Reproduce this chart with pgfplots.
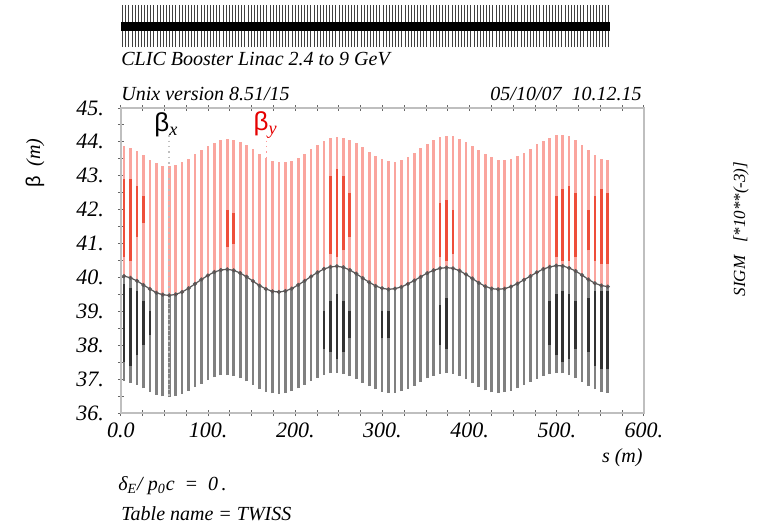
\documentclass[border=0pt]{standalone}
\usepackage{fontspec}
\setmainfont{Liberation Serif}
\newfontfamily\gr{Liberation Sans}
\usepackage{pgfplots}
\usepackage{pgfplotstable}
\pgfplotsset{compat=1.18}
\definecolor{pinkred}{RGB}{250,165,158}
\definecolor{darkred}{RGB}{238,78,58}
\definecolor{midgray}{RGB}{128,128,128}
\definecolor{darkgray}{RGB}{50,50,50}

% s, lower envelope of beta_x (B), common envelope near 40 (M), upper envelope of beta_y (T)
\pgfplotstableread{
s B M T
3.5 36.94 40.04 43.87
10.9 36.90 39.99 43.82
18.3 36.83 39.90 43.72
25.7 36.73 39.78 43.60
33.1 36.63 39.66 43.47
40.5 36.54 39.55 43.37
47.9 36.49 39.49 43.30
55.3 36.47 39.47 43.29
62.7 36.50 39.50 43.33
70.1 36.56 39.57 43.40
77.5 36.65 39.68 43.51
84.9 36.76 39.81 43.63
92.3 36.87 39.94 43.76
99.7 36.97 40.06 43.88
107.1 37.05 40.16 43.98
114.5 37.11 40.22 44.05
121.9 37.12 40.24 44.08
129.3 37.09 40.21 44.06
136.7 37.03 40.13 44.00
144.1 36.93 40.02 43.90
151.5 36.83 39.89 43.78
158.9 36.72 39.76 43.65
166.3 36.63 39.66 43.53
173.7 36.58 39.59 43.44
181.1 36.56 39.57 43.40
188.5 36.59 39.60 43.40
195.9 36.64 39.67 43.44
203.3 36.73 39.78 43.53
210.7 36.84 39.90 43.65
218.1 36.94 40.03 43.79
225.5 37.04 40.15 43.92
232.9 37.12 40.25 44.03
240.3 37.17 40.31 44.11
247.7 37.18 40.33 44.14
255.1 37.15 40.30 44.12
262.5 37.09 40.22 44.06
269.9 37.00 40.11 43.96
277.3 36.90 39.98 43.84
284.7 36.79 39.86 43.71
292.1 36.70 39.75 43.58
299.5 36.63 39.68 43.49
306.9 36.59 39.65 43.43
314.3 36.60 39.67 43.42
321.7 36.64 39.72 43.46
329.1 36.71 39.81 43.55
336.5 36.81 39.91 43.67
343.9 36.91 40.02 43.81
351.3 37.02 40.13 43.94
358.7 37.10 40.21 44.06
366.1 37.16 40.27 44.14
373.5 37.18 40.29 44.18
380.9 37.16 40.27 44.17
388.3 37.10 40.20 44.10
395.7 37.00 40.09 44.01
403.1 36.88 39.97 43.89
410.5 36.77 39.84 43.75
417.9 36.67 39.74 43.63
425.3 36.61 39.67 43.54
432.7 36.59 39.65 43.48
440.1 36.61 39.67 43.47
447.5 36.66 39.73 43.51
454.9 36.73 39.82 43.58
462.3 36.82 39.93 43.68
469.7 36.92 40.04 43.80
477.1 37.01 40.15 43.93
484.5 37.09 40.25 44.04
491.9 37.15 40.31 44.13
499.3 37.18 40.35 44.19
506.7 37.17 40.34 44.21
514.1 37.12 40.28 44.17
521.5 37.03 40.19 44.06
528.9 36.92 40.07 43.91
536.3 36.80 39.94 43.75
543.7 36.70 39.83 43.60
551.1 36.63 39.76 43.50
558.5 36.60 39.73 43.46
}\betatab

% darker parts of the beta_y strokes
\pgfplotstableread{
s lo hi
3.5 40.6 42.9
10.9 40.5 42.9
18.3 41.2 42.7
25.7 41.6 42.4
121.9 40.9 42.0
129.3 41.0 41.9
240.3 40.7 43.0
247.7 40.6 43.2
255.1 40.8 43.0
262.5 41.2 42.5
366.1 40.6 42.2
373.5 40.5 42.3
380.9 40.7 42.0
499.3 40.6 42.4
506.7 40.5 42.6
514.1 40.5 42.7
521.5 40.6 42.5
536.3 40.8 42.0
543.7 40.5 42.4
551.1 40.4 42.6
558.5 40.4 42.5
}\darkytab

% darker parts of the beta_x strokes
\pgfplotstableread{
s lo hi
3.5 37.5 39.8
10.9 37.4 39.7
18.3 37.7 39.6
25.7 38.0 39.3
33.1 38.3 39.0
232.9 37.9 39.0
240.3 37.8 39.3
247.7 37.6 39.5
255.1 37.8 39.3
262.5 38.2 39.0
299.5 38.2 39.0
306.9 38.2 39.0
366.1 38.0 39.2
373.5 37.9 39.4
491.9 38.0 39.3
499.3 37.7 39.5
506.7 37.5 39.6
514.1 37.6 39.5
521.5 37.9 39.3
536.3 37.8 39.4
543.7 37.4 39.6
551.1 37.3 39.6
558.5 37.3 39.6
}\darkxtab

\begin{document}
\begin{tikzpicture}[x=1pt,y=1pt]
\path[use as bounding box] (0,0) rectangle (381,263.5);

% lattice schematic
\begin{axis}[scale only axis, width=261.5pt, height=21pt,
  at={(60.5pt,240pt)}, anchor=south west,
  xmin=0, xmax=600, ymin=-1, ymax=1,
  axis x line=middle, axis y line=none,
  axis line style={draw=none},
  xtick={1.8,5.4,...,558}, xticklabels={},
  major tick length=21pt, tick align=center,
  tick style={black!75, line width=0.45pt},
  clip=false]
\addplot[black, line width=4.5pt] coordinates {(0,0) (561,0)};
\end{axis}

\begin{axis}[scale only axis, width=261.5pt, height=152.5pt,
  at={(60.5pt,57pt)}, anchor=south west,
  xmin=0, xmax=600, ymin=36, ymax=45,
  axis line style={draw=black!25, line width=1.2pt},
  xtick={0,100,...,600},
  xticklabels={0.0,100.,200.,300.,400.,500.,600.},
  minor x tick num=3,
  ytick={36,37,...,45},
  yticklabels={36.,37.,38.,39.,40.,41.,42.,43.,44.,45.},
  minor y tick num=1,
  tick style={black!60, line width=0.5pt},
  major tick length=3pt, minor tick length=3pt, tick align=center,
  xtick pos=both, ytick pos=left,
  /pgf/number format/assume math mode=true,
  ticklabel style={font=\fontsize{11}{13}\selectfont\itshape},
  yticklabel style={xshift=-3.5pt},
  clip=true]

\addplot[draw=none, mark=none, forget plot,
  error bars/.cd, y dir=plus, y explicit, error mark=none,
  error bar style={line width=1.35pt, pinkred}]
  table[x=s, y=M, y error expr=\thisrow{T}-\thisrow{M}] {\betatab};
\addplot[draw=none, mark=none, forget plot,
  error bars/.cd, y dir=plus, y explicit, error mark=none,
  error bar style={line width=1.35pt, darkred}]
  table[x=s, y=lo, y error expr=\thisrow{hi}-\thisrow{lo}] {\darkytab};
\addplot[draw=none, mark=none, forget plot,
  error bars/.cd, y dir=plus, y explicit, error mark=none,
  error bar style={line width=1.35pt, midgray}]
  table[x=s, y=B, y error expr=\thisrow{M}-\thisrow{B}] {\betatab};
\addplot[draw=none, mark=none, forget plot,
  error bars/.cd, y dir=plus, y explicit, error mark=none,
  error bar style={line width=1.35pt, darkgray}]
  table[x=s, y=lo, y error expr=\thisrow{hi}-\thisrow{lo}] {\darkxtab};
\addplot[black!65, line width=0.6pt, mark=*, mark size=0.7pt,
  mark options={draw=none, fill=red!70!black}]
  table[x=s, y=M] {\betatab};

\addplot[black!25, dotted, line width=0.7pt] coordinates {(55,44.2) (55,36.5)};
\addplot[red!40, dotted, line width=0.7pt] coordinates {(167,44.2) (167,43.5)};

\node[font=\fontsize{13}{15}\selectfont, black] at (axis cs:52,44.5)
  {{\gr β}\textsubscript{\itshape x}};
\node[font=\fontsize{13}{15}\selectfont, red!90!black] at (axis cs:166,44.5)
  {{\gr β}\textsubscript{\itshape y}};
\end{axis}

\begin{scope}[every node/.style={inner sep=0pt}]
\node[anchor=base west, font=\fontsize{10}{12}\selectfont\itshape] at (60.5,231)
  {CLIC Booster Linac 2.4 to 9 GeV};
\node[anchor=base west, font=\fontsize{10}{12}\selectfont\itshape] at (60.5,213.5)
  {Unix version 8.51/15};
\node[anchor=base east, font=\fontsize{10}{12}\selectfont\itshape] at (321,213.5)
  {05/10/07\ \ 10.12.15};
\node[rotate=90, font=\fontsize{10}{12}\selectfont] at (17.5,182)
  {{\gr β}\ \ \textit{(m)}};
\node[rotate=90, font=\fontsize{8.5}{10}\selectfont\itshape] at (370.5,149)
  {SIGM\ \ \ [*10**(-3)]};
\node[anchor=base east, font=\fontsize{10}{12}\selectfont\itshape] at (321.5,32.5)
  {s (m)};
\node[anchor=base west, font=\fontsize{10}{12}\selectfont\itshape] at (59,18.5)
  {δ\textsubscript{E}/ p\textsubscript{0}c \ = \ 0\,.};
\node[anchor=base west, font=\fontsize{10}{12}\selectfont\itshape] at (60.5,3.5)
  {Table name = TWISS};
\end{scope}
\end{tikzpicture}
\end{document}
